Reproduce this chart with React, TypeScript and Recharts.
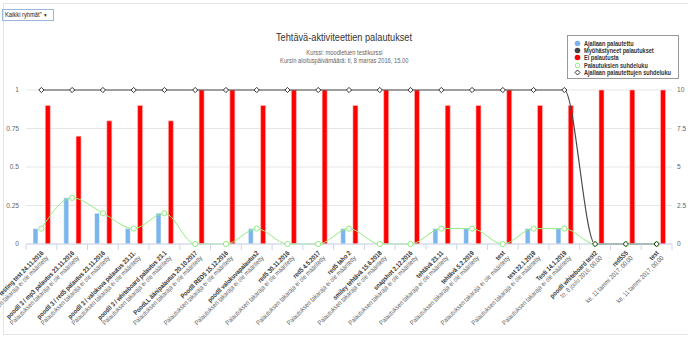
import React from 'react';
import { ComposedChart, Bar, Line, XAxis, YAxis, CartesianGrid, Legend } from 'recharts';

const FONT = '"Liberation Sans", Arial, sans-serif';

// Tehtävät (x-akselin kategoriat) ja niiden takarajat
const categories = [
  'testing test 24.11.2016',
  'poodll 3 / mp3 palautus 23.11.2016',
  'poodll 3 / red5 palautus 23.11.2016',
  'poodll 3 / valokuva palautus 23.11.',
  'poodll 3 / whiteboard palautus 23.1',
  'PoodLL äänipalautus 20.10.2017',
  'Poodll RED5 15.12.2016',
  'poodll valokuvapalautus2',
  'red5 30.11.2016',
  'red5 4.5.2017',
  'red5 taho 2',
  'smiley tehtävä 15.6.2018',
  'snapshot 2.12.2016',
  'tehtävä 23.11',
  'tehtävä 5.2.2019',
  'test',
  'test 22.1.2019',
  'Testi 14.1.2019',
  'poodll whiteboard test2',
  'red5S5',
  'test',
];
const NO_DL = 'Palautuksen takaraja ei ole määritetty';
const deadlines = [
  NO_DL, NO_DL, NO_DL, NO_DL, NO_DL, NO_DL, NO_DL, NO_DL, NO_DL, NO_DL, NO_DL,
  NO_DL, NO_DL, NO_DL, NO_DL, NO_DL, NO_DL, NO_DL,
  'to, 8 joulu 2016, 00.00',
  'ke, 11 tammi 2017, 00.00',
  'ke, 11 tammi 2017, 00.00',
];

// Sarjat
const onTime = [0.1, 0.3, 0.2, 0.1, 0.2, 0, 0, 0.1, 0, 0, 0.1, 0, 0, 0.1, 0.1, 0, 0.1, 0.1, 0, 0, 0];
const late = [0, 0, 0, 0, 0, 0, 0, 0, 0, 0, 0, 0, 0, 0, 0, 0, 0, 0, 0, 0, 0];
const notSubmitted = [0.9, 0.7, 0.8, 0.9, 0.8, 1, 1, 0.9, 1, 1, 0.9, 1, 1, 0.9, 0.9, 1, 0.9, 0.9, 1, 1, 1];
const submitRatio = [0.1, 0.3, 0.2, 0.1, 0.2, 0, 0, 0.1, 0, 0, 0.1, 0, 0, 0.1, 0.1, 0, 0.1, 0.1, 0, 0, 0];
const onTimeRatio = [1, 1, 1, 1, 1, 1, 1, 1, 1, 1, 1, 1, 1, 1, 1, 1, 1, 1, 0, 0, 0];

const leftTicks = [0, 0.25, 0.5, 0.75, 1];
const rightTicks = [0, 2.5, 5, 7.5, 10];

const data = categories.map((name, i) => ({
  name,
  deadline: deadlines[i],
  onTime: onTime[i],
  late: late[i],
  notSubmitted: notSubmitted[i],
  submitRatio: submitRatio[i],
  onTimeRatio: onTimeRatio[i],
}));

const W = 688;
const H = 338;
const LEFT_AXIS_W = 26;
const RIGHT_AXIS_W = 16;
const BAND = (W - LEFT_AXIS_W - RIGHT_AXIS_W) / categories.length;

const legendItems = [
  { label: 'Ajallaan palautettu', color: '#7cb5ec', kind: 'dot' },
  { label: 'Myöhästyneet palautukset', color: '#434348', kind: 'dot' },
  { label: 'Ei palautusta', color: '#ff0000', kind: 'dot' },
  { label: 'Palautuksien suhdeluku', color: '#90ed7d', kind: 'ring' },
  { label: 'Ajallaan palautettujen suhdeluku', color: '#333333', kind: 'diamond' },
];

// narrow text, the original font is condensed
const narrow = (k: number, origin = 'left center'): React.CSSProperties => ({
  display: 'inline-block',
  transform: `scaleX(${k})`,
  transformOrigin: origin,
  whiteSpace: 'nowrap',
});

const CategoryTick = (props: any) => {
  const { x, y, payload, index } = props;
  const d = data[index] || data[0];
  return (
    <g>
      <line x1={x - BAND / 2} x2={x - BAND / 2} y1={y} y2={y + 6} stroke="#ccd6eb" />
      {index === categories.length - 1 && (
        <line x1={x + BAND / 2} x2={x + BAND / 2} y1={y} y2={y + 6} stroke="#ccd6eb" />
      )}
      <g transform={`translate(${x - 1},${y + 6}) rotate(-45) scale(0.85,1)`}>
        <text textAnchor="end" fontFamily={FONT} fontSize={6.7}>
          <tspan x={0} dy={5} fill="#333" fontWeight="bold">{payload.value}</tspan>
          <tspan x={0} dy={7} fill="#666">{d.deadline}</tspan>
        </text>
      </g>
    </g>
  );
};

const GreenDot = (props: any) => {
  const { cx, cy } = props;
  if (cx == null || cy == null) return null;
  return <circle cx={cx} cy={cy} r={2.6} fill="#fff" stroke="#90ed7d" strokeWidth={1} />;
};

const DiamondDot = (props: any) => {
  const { cx, cy } = props;
  if (cx == null || cy == null) return null;
  const r = 2.6;
  return (
    <path
      d={`M${cx},${cy - r} L${cx + r},${cy} L${cx},${cy + r} L${cx - r},${cy} Z`}
      fill="#fff"
      stroke="#333"
      strokeWidth={1}
    />
  );
};

const renderLegend = () => (
  <div
    style={{
      width: 112,
      height: 44,
      boxSizing: 'border-box',
      border: '1px solid #999',
      background: '#fff',
      padding: '4px 0 0 6px',
      fontFamily: FONT,
      fontSize: 6.8,
      fontWeight: 'bold',
      color: '#333',
      lineHeight: '7px',
    }}
  >
    {legendItems.map((it) => (
      <div key={it.label} style={{ display: 'flex', alignItems: 'center', height: 7.2, whiteSpace: 'nowrap' }}>
        <svg width={7} height={7} style={{ marginRight: 3, flex: 'none' }}>
          {it.kind === 'dot' && <circle cx={3.5} cy={3.5} r={2.8} fill={it.color} />}
          {it.kind === 'ring' && <circle cx={3.5} cy={3.5} r={2.3} fill="#fff" stroke={it.color} strokeWidth={1} />}
          {it.kind === 'diamond' && (
            <path d="M3.5,1 L6,3.5 L3.5,6 L1,3.5 Z" fill="#fff" stroke={it.color} strokeWidth={1} />
          )}
        </svg>
        <span style={narrow(0.82)}>{it.label}</span>
      </div>
    ))}
  </div>
);

export default function App() {
  return (
    <div style={{ position: 'absolute', left: 0, top: 0, width: W, height: H, background: '#fff', overflow: 'hidden' }}>
      <div style={{ position: 'absolute', left: 3, top: 3, width: 720, height: 330, border: '1px solid #e4e4e4' }} />
      <div
        style={{
          position: 'absolute', left: 2, top: 9, width: 48, height: 10, border: '1px solid #9bb7dc',
          fontFamily: FONT, fontSize: 6.8, lineHeight: '10px', paddingLeft: 2, color: '#222',
        }}
      >
        <span style={narrow(0.85)}>Kaikki ryhmät" <span style={{ fontSize: 5 }}>▼</span></span>
      </div>
      <div style={{ position: 'absolute', left: 0, top: 31, width: W, textAlign: 'center', fontFamily: FONT, fontSize: 11.5, color: '#333' }}>
        <span style={narrow(0.8, 'center center')}>Tehtävä-aktiviteettien palautukset</span>
      </div>
      <div style={{ position: 'absolute', left: 0, top: 49, width: W, textAlign: 'center', fontFamily: FONT, fontSize: 7, lineHeight: '7.5px', color: '#666' }}>
        <div><span style={narrow(0.82, 'center center')}>Kurssi: moodletuen testikurssi</span></div>
        <div><span style={narrow(0.82, 'center center')}>Kursin aloituspäivämäärä: ti, 8 marras 2016, 15.00</span></div>
      </div>
      <div style={{ position: 'absolute', left: 0, top: 0 }}>
        <ComposedChart
          width={W}
          height={H}
          data={data}
          margin={{ top: 90, right: 0, bottom: 0, left: 0 }}
          barSize={5}
          barGap={1.15}
        >
          <CartesianGrid vertical={false} stroke="#e6e6e6" yAxisId="left" />
          <XAxis
            dataKey="name"
            interval={0}
            height={94}
            tickLine={false}
            tickSize={0}
            tickMargin={0}
            stroke="#ccd6eb"
            tick={<CategoryTick />}
          />
          <YAxis
            yAxisId="left"
            width={LEFT_AXIS_W}
            domain={[0, 1]}
            ticks={leftTicks}
            axisLine={false}
            tickLine={false}
            tickSize={5}
            tickMargin={2}
            tick={{ fontSize: 6.6, fill: '#666', fontFamily: FONT }}
          />
          <YAxis
            yAxisId="right"
            orientation="right"
            width={RIGHT_AXIS_W}
            domain={[0, 10]}
            ticks={rightTicks}
            axisLine={false}
            tickLine={false}
            tickSize={3}
            tickMargin={2}
            tick={{ fontSize: 6.6, fill: '#666', fontFamily: FONT }}
          />
          <Legend
            content={renderLegend}
            layout="vertical"
            align="center"
            verticalAlign="middle"
            wrapperStyle={{ position: 'absolute', left: 567, top: 35, width: 112 }}
          />
          <Bar yAxisId="left" dataKey="onTime" name="Ajallaan palautettu" fill="#7cb5ec" stroke="#fff" strokeWidth={0.5} isAnimationActive={false} />
          <Bar yAxisId="left" dataKey="late" name="Myöhästyneet palautukset" fill="#434348" isAnimationActive={false} />
          <Bar yAxisId="left" dataKey="notSubmitted" name="Ei palautusta" fill="#ff0000" stroke="#ffc4c4" strokeWidth={0.6} isAnimationActive={false} />
          {/* right axis carries the empty late-series so that its scale is drawn */}
          <Line
            yAxisId="right"
            dataKey="late"
            stroke="none"
            dot={false}
            activeDot={false}
            legendType="none"
            isAnimationActive={false}
          />
          <Line
            yAxisId="left"
            type="monotone"
            dataKey="submitRatio"
            name="Palautuksien suhdeluku"
            stroke="#90ed7d"
            strokeWidth={1}
            dot={<GreenDot />}
            activeDot={false}
            isAnimationActive={false}
          />
          <Line
            yAxisId="left"
            type="monotone"
            dataKey="onTimeRatio"
            name="Ajallaan palautettujen suhdeluku"
            stroke="#4a4a4a"
            strokeWidth={1.2}
            dot={<DiamondDot />}
            activeDot={false}
            isAnimationActive={false}
          />
        </ComposedChart>
      </div>
    </div>
  );
}
